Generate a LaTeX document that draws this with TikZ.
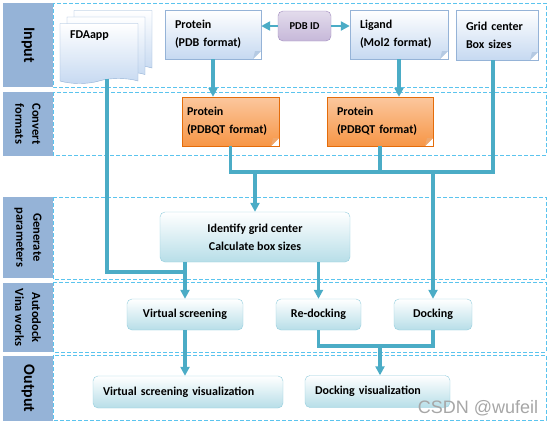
\documentclass[tikz,border=0pt]{standalone}
\usepackage{fontspec}
\setmainfont{Carlito}
\newfontfamily\wmfont{Liberation Sans}
\usetikzlibrary{arrows.meta,shapes.symbols}

\definecolor{docblue}{HTML}{C6D9F1}
\definecolor{docedge}{HTML}{95B3D7}
\definecolor{orng}{HTML}{F79646}
\definecolor{orngtop}{HTML}{FBC79E}
\definecolor{orngedge}{HTML}{E46C0A}
\definecolor{aqua}{HTML}{B7DEE8}
\definecolor{aquaedge}{HTML}{93CDDD}
\definecolor{lilac}{HTML}{C6B8D9}
\definecolor{lilacedge}{HTML}{A08BBE}
\definecolor{pipeblue}{HTML}{4BACC6}
\definecolor{framecol}{HTML}{5BC4EE}
\definecolor{lblblue}{HTML}{95B3D7}

\begin{document}
\begin{tikzpicture}[x=1pt, y=-1pt, font=\bfseries\fontsize{12}{18}\selectfont]
		\tikzset{
			fold/.style={path picture={
				\fill[white] (path picture bounding box.south east) -- ++(-8pt,0pt) -- ++(8pt,8pt) -- cycle;
				\fill[#1] ([xshift=-8pt]path picture bounding box.south east) -- ++(8pt,8pt) -- ++(-6pt,0pt) -- cycle;}},
			doc/.style={rectangle, draw=docedge, top color=white, bottom color=docblue,
				minimum height=49pt, inner xsep=10pt, align=left, fold=docedge!70},
			orangedoc/.style={rectangle, draw=orngedge, top color=orngtop, bottom color=orng,
				minimum height=49pt, inner xsep=10pt, align=left, fold=orngedge!60},
			rbox/.style={rectangle, rounded corners=5pt, draw=aquaedge, top color=white,
				bottom color=aqua, align=center},
			fdadoc/.style={tape, tape bend top=none, draw=docedge, top color=white,
				bottom color=docblue, minimum width=78pt, minimum height=60pt},
			lbl/.style={rectangle, fill=lblblue, rotate=-90, minimum height=50pt,
				align=center, inner sep=0pt, font=\bfseries\fontsize{12.5}{17}\selectfont},
			frame/.style={draw=framecol, dash pattern=on 4pt off 2pt, line width=0.8pt},
			pipe/.style={draw=pipeblue, line width=3.5pt},
			thinpipe/.style={draw=pipeblue, line width=2.5pt},
			arr/.style={-{Triangle[length=9pt, width=9pt]}},
		}
		\useasboundingbox (0,0) rectangle (554,426);

		% row frames and labels
		\draw[frame] (53,3) rectangle (546,87);
		\draw[frame] (53,92) rectangle (546,155);
		\draw[frame] (53,197) rectangle (546,279);
		\draw[frame] (53,282) rectangle (546,352);
		\draw[frame] (53,355) rectangle (546,420);

		\node[lbl, minimum width=84pt, font=\bfseries\fontsize{16}{18}\selectfont] (lin) at (28,45) {Input};
		\node[lbl, minimum width=64pt] (lconv) at (28,124) {Convert\\formats};
		\node[lbl, minimum width=81pt] (lgen) at (28,237.5) {Generate\\parameters};
		\node[lbl, minimum width=69pt] (lvina) at (28,317.5) {Autodock\\Vina works};
		\node[lbl, minimum width=65pt, font=\bfseries\fontsize{16}{18}\selectfont] (lout) at (28,388.5) {Output};

		% input
		\node[fdadoc] (fda3) at (113,38) {};
		\node[fdadoc] (fda2) at (106,44.5) {};
		\node[fdadoc, align=left, text width=58pt, inner xsep=10pt, text depth=33pt] (fda) at (99,51) {FDAapp};
		\node[doc, text width=76pt] (prot) at (213,34.5) {Protein\\(PDB format)};
		\node[rectangle, rounded corners=5pt, draw=lilacedge, top color=white!50!lilac, bottom color=lilac,
			minimum width=53pt, minimum height=30pt, font=\bfseries\fontsize{10.5}{12}\selectfont] (pdbid) at (304.5,26) {PDB ID};
		\node[doc, text width=78pt] (lig) at (399,34.5) {Ligand\\(Mol2 format)};
		\node[doc, text width=62pt, minimum height=50pt] (grid) at (497,35) {Grid center\\Box sizes};

		% convert
		\node[orangedoc, text width=87pt, inner xsep=5pt] (pq1) at (230.5,121.5) {Protein\\(PDBQT format)};
		\node[orangedoc, text width=86pt] (pq2) at (380,121.5) {Protein\\(PDBQT format)};

		% parameters, docking, output
		\node[rbox, minimum width=190pt, minimum height=50pt] (ident) at (255,237) {Identify grid center\\Calculate box sizes};
		\node[rbox, minimum width=116pt, minimum height=31pt] (vs) at (185,314.5) {Virtual screening};
		\node[rbox, minimum width=85pt, minimum height=31pt] (redock) at (318.5,314.5) {Re-docking};
		\node[rbox, minimum width=78pt, minimum height=31pt] (dock) at (433,314.5) {Docking};
		\node[rbox, minimum width=190pt, minimum height=32pt, text width=170pt, align=left] (vsvis) at (188,392) {Virtual screening visualization};
		\node[rbox, minimum width=145pt, minimum height=32pt, text width=125pt, align=left] (dockvis) at (377.5,391.5) {Docking visualization};

		\coordinate (bus) at (300,172);
		\coordinate (vsj) at (185,272);
		\coordinate (obus) at (380,346);

		\draw[thinpipe, arr] (pdbid.west) -- (pdbid.west -| prot.east);
		\draw[thinpipe, arr] (pdbid.east) -- (pdbid.east -| lig.west);

		\draw[pipe, arr] (prot.south) -- (prot.south |- pq1.north);
		\draw[pipe, arr] (lig.south) -- (lig.south |- pq2.north);

		\draw[pipe] (pq1.south) |- (bus) -| ([xshift=-4pt]grid.south);
		\draw[pipe] (pq2.south) -- (pq2.south |- bus);
		\draw[pipe, arr] (ident.north |- bus) -- (ident.north);
		\draw[pipe, arr] (dock.north |- bus) -- (dock.north);

		\draw[pipe] ([xshift=8pt]fda.south) |- (vsj);
		\draw[pipe, arr] (ident.south -| vs.north) -- (vs.north);
		\draw[pipe, arr] (ident.south -| redock.north) -- (redock.north);
		\draw[pipe, arr] (vs.south) -- (vs.south |- vsvis.north);

		\draw[pipe] (redock.south) |- (obus) -| (dock.south);
		\draw[pipe, arr] (obus) -- (obus |- dockvis.north);

		\node[text=gray!70, font=\wmfont\fontsize{18}{20}\selectfont] (wm) at (478,408) {CSDN @wufeil};

	\end{tikzpicture}
\end{document}
